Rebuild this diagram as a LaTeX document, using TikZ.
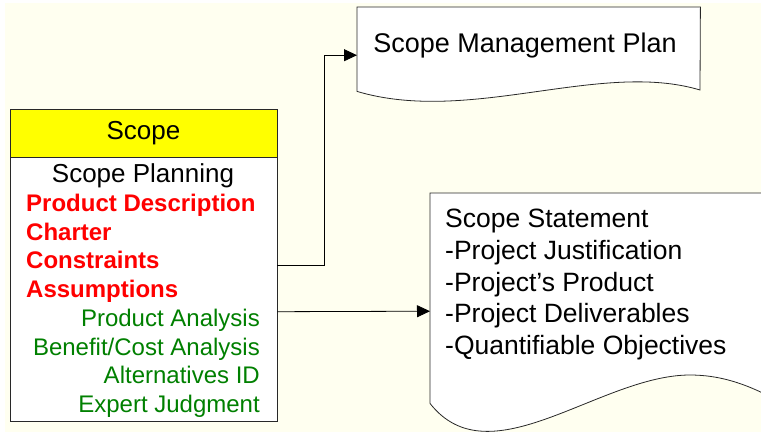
\documentclass[tikz,border=0pt]{standalone}
\usepackage{fontspec}
\setmainfont{Liberation Sans}
\usetikzlibrary{arrows.meta, positioning}
\definecolor{paper}{RGB}{255,255,240}
\definecolor{hdryellow}{RGB}{255,255,0}
\definecolor{inred}{RGB}{255,0,0}
\definecolor{toolgreen}{RGB}{0,128,0}
\definecolor{edge}{RGB}{40,40,40}
\tikzset{
  title/.style = {font=\fontsize{26}{31.7}\selectfont, inner sep=0pt},
  doctitle/.style = {font=\fontsize{27}{31.7}\selectfont, inner sep=0pt},
  input/.style = {font=\fontsize{24}{29}\selectfont\bfseries, text=inred,
    inner sep=0pt, anchor=base west},
  tool/.style = {font=\fontsize{24}{29}\selectfont, text=toolgreen,
    inner sep=0pt, anchor=base east},
  procbox/.style = {draw=edge, line width=0.8pt, minimum width=267pt, inner sep=0pt},
  docarea/.style = {inner sep=0pt, anchor=north west},
  docshape/.style = {draw=edge, fill=white, line width=0.8pt},
  link/.style = {draw=black, line width=0.8pt, -{Triangle[length=13pt,width=12pt]}}
}

\begin{document}
\begin{tikzpicture}[x=1pt, y=-1pt]
\fill[white] (0,0) rectangle (761,432);
\fill[paper] (5,3) rectangle (761,432);
\useasboundingbox (0,0) rectangle (761,432);
\clip (0,0) rectangle (761,432);

% process box
\node [procbox, fill=hdryellow, minimum height=48pt, anchor=north west,
  font=\fontsize{26}{31.7}\selectfont] (scope) at (9.5,108.5) {Scope};
\node [procbox, fill=white, minimum height=264pt, anchor=north] (planning) at (scope.south) {};
\node [title, anchor=base] (planname) at (143,182) {Scope Planning};
\node [input] (proddesc) at (26,211) {Product Description};
\node [input] (charter) at (26,240) {Charter};
\node [input] (constraints) at (26,268) {Constraints};
\node [input] (assumptions) at (26,297) {Assumptions};
\node [tool] (prodanalysis) at (260,326) {Product Analysis};
\node [tool] (benefitcost) at (260,355) {Benefit/Cost Analysis};
\node [tool] (altid) at (260,383) {Alternatives ID};
\node [tool] (expert) at (260,412) {Expert Judgment};

% outputs
\node [docarea, minimum width=343pt, minimum height=84pt] (mgmtplan) at (357,7) {};
\draw [docshape] (mgmtplan.south west) -- (mgmtplan.north west) -- (mgmtplan.north east)
  -- (700,90) .. controls (600,60) and (470,125) .. (mgmtplan.south west) -- cycle;
\node [doctitle, anchor=base] (mgmtplantext) at (525,52) {Scope Management Plan};

\node [docarea, minimum width=380pt, minimum height=210pt] (statement) at (430,193) {};
\draw [docshape] (statement.south west) -- (statement.north west) -- (statement.north east)
  -- (810,420) .. controls (770,395) and (735,375) .. (690,375)
  .. controls (600,375) and (490,480) .. (statement.south west) -- cycle;
\node [doctitle, font=\fontsize{26.5}{31.7}\selectfont, anchor=north west, align=left]
  (statementtext) at (445,209)
  {Scope Statement\\-Project Justification\\-Project’s Product\\-Project Deliverables\\-Quantifiable Objectives};

% connectors
\draw [link] ([yshift=24pt]planning.east) -- ++(47,0) |- ([yshift=-6pt]mgmtplan.west);
\draw [link] ([yshift=-22pt]planning.east) -- ([yshift=-13pt]statement.west);
\end{tikzpicture}
\end{document}
